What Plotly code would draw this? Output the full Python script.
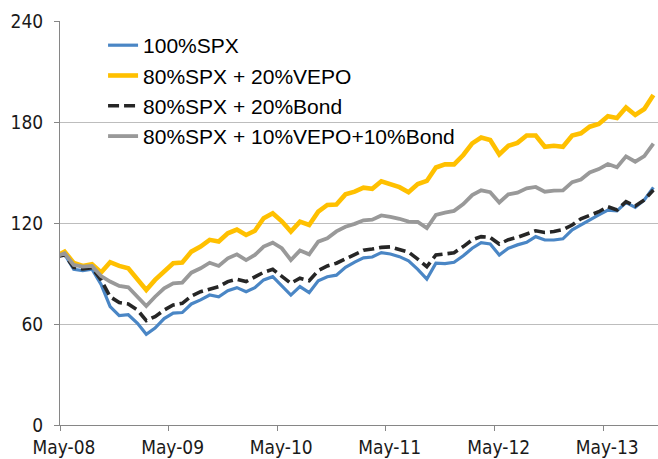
import plotly.graph_objects as go

# Monthly observations, Apr-2008 (base = 100) through Oct-2013
months = []
for yr in range(2008, 2014):
    for mo in range(1, 13):
        if (yr, mo) < (2008, 4) or (yr, mo) > (2013, 10):
            continue
        months.append(f"{yr}-{mo:02d}")

spx = [100, 101.5, 92.5, 91.7, 92.5, 83.5, 70.3, 65.0, 65.5, 60.4, 53.9, 57.6, 63.2, 66.5, 66.8,
       71.9, 74.3, 77.2, 76.2, 79.8, 81.6, 79.2, 81.6, 86.2, 88.1, 82.5, 77.2, 82.2, 78.6, 85.7,
       88.1, 89.0, 93.7, 96.8, 99.3, 99.8, 102.4, 101.6, 100.0, 97.5, 92.5, 86.7, 96.1, 95.9,
       96.7, 100.5, 105.0, 108.3, 107.5, 101.0, 105.0, 107.0, 108.5, 111.9, 109.9, 109.9, 110.6,
       115.9, 119.0, 121.8, 124.8, 127.7, 127.2, 132.1, 129.3, 133.7, 141.2]

spx_vepo = [100, 103.0, 96.3, 94.5, 95.5, 90.6, 96.7, 94.5, 93.1, 86.2, 80.2, 86.2, 91.1, 96.1,
            96.5, 103.0, 106.0, 110.0, 109.0, 113.9, 116.1, 112.9, 115.4, 122.8, 125.8, 121.0,
            114.9, 120.8, 118.8, 126.7, 130.7, 131.0, 137.0, 138.6, 141.0, 140.3, 144.8, 143.1,
            141.3, 138.3, 143.1, 145.0, 153.0, 154.8, 154.8, 160.4, 167.3, 170.8, 169.3, 160.7,
            165.9, 167.6, 172.0, 172.0, 165.3, 165.9, 165.3, 172.0, 173.3, 177.2, 178.8, 183.4,
            182.4, 188.6, 184.2, 187.7, 196.1]

spx_bond = [100, 101.0, 93.7, 92.7, 93.5, 86.2, 76.2, 72.7, 71.9, 68.3, 62.0, 64.4, 68.3, 71.3,
            72.3, 76.6, 79.2, 80.6, 82.2, 85.2, 86.6, 85.2, 87.8, 90.7, 92.5, 88.1, 84.2, 87.2,
            85.7, 91.7, 94.5, 96.1, 98.8, 101.5, 103.8, 104.5, 105.5, 105.8, 104.5, 102.7, 98.5,
            94.1, 101.0, 101.8, 102.3, 106.0, 110.0, 111.9, 111.4, 107.5, 110.1, 111.5, 113.2,
            115.4, 114.4, 114.9, 116.1, 118.8, 122.5, 124.8, 126.7, 129.7, 127.7, 132.7, 130.1,
            133.7, 139.6]

spx_vepo_bond = [100, 102.0, 95.1, 94.1, 94.5, 88.5, 85.2, 82.6, 81.8, 76.2, 70.7, 76.2, 81.2,
                 84.2, 84.6, 90.5, 93.1, 96.4, 94.5, 99.0, 101.4, 98.0, 101.0, 106.0, 108.3, 105.0,
                 98.0, 103.6, 101.4, 108.9, 110.9, 115.0, 117.8, 119.5, 121.6, 122.0, 124.5, 123.6,
                 122.5, 120.8, 120.6, 117.0, 124.8, 126.2, 127.2, 131.2, 136.6, 139.4, 138.3,
                 132.2, 137.0, 138.0, 140.6, 141.4, 138.6, 139.2, 139.4, 144.3, 145.8, 150.0,
                 152.0, 155.0, 153.1, 159.6, 156.4, 159.7, 167.2]

names = ["100%SPX", "80%SPX + 20%VEPO", "80%SPX + 20%Bond", "80%SPX + 10%VEPO+10%Bond"]
y_ticks = [0, 60, 120, 180, 240]

series = [spx, spx_vepo, spx_bond, spx_vepo_bond]
styles = [
    dict(color="#4A86C5", width=3.2, dash="solid"),
    dict(color="#FFC000", width=4.6, dash="solid"),
    dict(color="#262626", width=3.6, dash="11px,5px"),
    dict(color="#999999", width=3.8, dash="solid"),
]

fig = go.Figure()
for i, (nm, vals, st) in enumerate(zip(names, series, styles)):
    fig.add_trace(go.Scatter(
        x=months, y=vals, name=nm, mode="lines",
        xperiod="M1", xperiodalignment="middle",
        line=dict(color=st["color"], width=st["width"], dash=st["dash"]),
        legendgroup=f"g{i}",
    ))

tick_font = dict(family="DejaVu Sans Condensed, Liberation Sans, sans-serif",
                 size=19, color="#1A1A1A")

fig.update_layout(
    width=658, height=459,
    margin=dict(l=60, r=0, t=21, b=34, autoexpand=False),
    paper_bgcolor="white", plot_bgcolor="white",
    showlegend=True,
    legend=dict(
        x=0.072, y=0.99, xanchor="left", yanchor="top",
        bgcolor="rgba(0,0,0,0)",
        font=dict(family="Liberation Sans, Arial, sans-serif", size=21, color="#000000"),
        tracegroupgap=5,
        traceorder="normal",
    ),
    xaxis=dict(
        type="date", automargin=False,
        range=["2008-05-01", "2013-11-01"],
        tick0="2008-05-01", dtick="M12", tickformat="%b-%y",
        showgrid=False, zeroline=False,
        showline=True, linecolor="#868686", linewidth=1,
        ticks="outside", ticklen=5, tickcolor="#868686",
        tickfont=tick_font,
        ticklabelshift=4, ticklabelstandoff=0,
    ),
    yaxis=dict(
        automargin=False,
        range=[0, 240], tickvals=y_ticks,
        showgrid=True, gridcolor="#BDBDBD", gridwidth=1,
        zeroline=False,
        showline=True, linecolor="#868686", linewidth=1,
        ticks="outside", ticklen=5, tickcolor="#868686",
        tickfont=tick_font,
        ticklabelstandoff=7,
    ),
)

fig.write_html(
    "out.html",
    config={"displayModeBar": False},
    post_script="document.body.style.margin='0';document.body.style.padding='0';",
)
